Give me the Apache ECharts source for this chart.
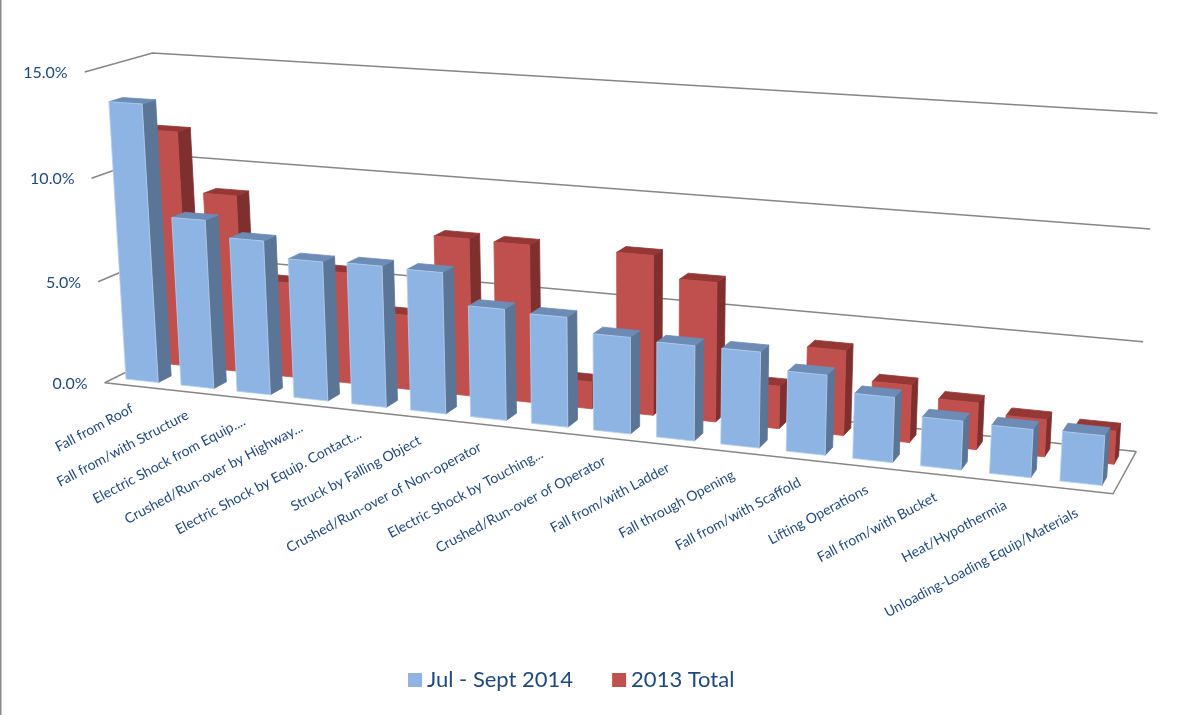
<!DOCTYPE html>
<html>
<head>
<meta charset="utf-8">
<style>
  html, body { margin: 0; padding: 0; background: #fff; }
  #chart { width: 1183px; height: 715px; }
</style>
<script src="https://cdn.jsdelivr.net/npm/echarts@6/dist/echarts.min.js"></script>
</head>
<body>
<div id="chart"></div>
<script>
const categories = [
  'Fall from Roof', 'Fall from/with Structure', 'Electric Shock from Equip....',
  'Crushed/Run-over by Highway...', 'Electric Shock by Equip. Contact...',
  'Struck by Falling Object', 'Crushed/Run-over of Non-operator',
  'Electric Shock by Touching...', 'Crushed/Run-over of Operator',
  'Fall from/with Ladder', 'Fall through Opening', 'Fall from/with Scaffold',
  'Lifting Operations', 'Fall from/with Bucket', 'Heat/Hypothermia',
  'Unloading-Loading Equip/Materials'
]
const julSept2014 = [13.5, 8.2, 7.45, 6.7, 6.75, 6.7, 5.25, 5.15, 4.5, 4.4, 4.4, 3.65, 2.95, 2.2, 2.15, 2.2]
const total2013 = [11.65, 8.75, 4.7, 5.45, 3.65, 7.6, 7.55, 1.3, 7.55, 6.55, 2.0, 3.95, 2.65, 2.15, 1.7, 1.5]
const valueTicks = [0, 5, 10, 15]

const TEXT = '#1F497D'
const FONT = 'Lato'
const GRID_LINE = '#868686'

// camera fit: [u, depth, h] -> [px, py]
const anchors = [
  [0, 0, 0, 104, 383], [1, 0, 0, 1113, 493], [1, 1, 0, 1136, 452], [0, 1, 0, 170, 350],
  [0, 0, 1, 85, 72], [0, 1, 1, 152, 53], [1, 1, 1, 1157, 113],
  [0, 0, 1 / 3, 98, 282], [0, 0, 2 / 3, 92, 178],
  [1, 1, 1 / 3, 1143, 342], [1, 1, 2 / 3, 1151, 229],
  [0.206 / 16, 0.15, 0, 126, 379], [4.206 / 16, 0.15, 0, 352, 404],
  [8.206 / 16, 0.15, 0, 593, 430], [12.206 / 16, 0.15, 0, 853, 459],
  [15.794 / 16, 0.15, 0, 1102, 485]
]

function fitCamera(points) {
  const n = 11
  const A = Array.from({ length: n }, () => new Array(n + 1).fill(0))
  const add = (row, rhs) => {
    for (let i = 0; i < n; i++) {
      for (let j = 0; j < n; j++) A[i][j] += row[i] * row[j]
      A[i][n] += row[i] * rhs
    }
  }
  points.forEach(([u, d, h, px, py]) => {
    const X = px / 1000
    const Y = py / 1000
    add([u, d, h, 1, 0, 0, 0, 0, -X * u, -X * d, -X * h], X)
    add([0, 0, 0, 0, u, d, h, 1, -Y * u, -Y * d, -Y * h], Y)
  })
  for (let c = 0; c < n; c++) {
    let best = c
    for (let r = c + 1; r < n; r++) if (Math.abs(A[r][c]) > Math.abs(A[best][c])) best = r
    ;[A[c], A[best]] = [A[best], A[c]]
    for (let r = 0; r < n; r++) {
      if (r === c) continue
      const f = A[r][c] / A[c][c]
      for (let k = c; k <= n; k++) A[r][k] -= f * A[c][k]
    }
  }
  return A.map((row, i) => row[n] / row[i])
}

const cam = fitCamera(anchors)
function project(u, d, h) {
  const w = cam[8] * u + cam[9] * d + cam[10] * h + 1
  return [
    1000 * (cam[0] * u + cam[1] * d + cam[2] * h + cam[3]) / w,
    1000 * (cam[4] * u + cam[5] * d + cam[6] * h + cam[7]) / w
  ]
}

// read u / h through the hidden axes, so the scales stay echarts' own
const toU = (api, cat, off) => (api.coord([cat, 0])[0] + off * api.size([1, 0])[0]) / api.getWidth()
const toH = (api, val) => 1 - api.coord([0, val])[1] / api.getHeight()

function barRenderer(depthFront, depthBack, colors) {
  return (params, api) => {
    const cat = api.value(0)
    const u0 = toU(api, cat, -0.294)
    const u1 = toU(api, cat, 0.294)
    const h = toH(api, api.value(1))
    const poly = (pts, fill, stroke) => ({
      type: 'polygon',
      shape: { points: pts },
      style: { fill, stroke: stroke || fill, lineWidth: 0.8 }
    })
    return {
      type: 'group',
      children: [
        poly([project(u1, depthFront, 0), project(u1, depthBack, 0), project(u1, depthBack, h), project(u1, depthFront, h)], colors.side),
        poly([project(u0, depthFront, h), project(u1, depthFront, h), project(u1, depthBack, h), project(u0, depthBack, h)], colors.top),
        poly([project(u0, depthFront, 0), project(u1, depthFront, 0), project(u1, depthFront, h), project(u0, depthFront, h)], colors.front, colors.edge)
      ]
    }
  }
}

const option = {
  animation: false,
  grid: { left: 0, right: 0, top: 0, bottom: 0 },
  xAxis: { type: 'category', data: categories, show: false },
  yAxis: { type: 'value', min: 0, max: 15, interval: 5, show: false },
  legend: {
    data: ['Jul - Sept 2014', '2013 Total'],
    left: 403,
    top: 664,
    icon: 'rect',
    itemWidth: 14,
    itemHeight: 14,
    itemGap: 39,
    selectedMode: false,
    textStyle: { color: TEXT, fontFamily: FONT, fontSize: 22 }
  },
  graphic: [{
    type: 'rect',
    silent: true,
    shape: { x: 0, y: 0, width: 1.5, height: 715 },
    style: { fill: '#8a8a8a' }
  }],
  series: [
    {
      // floor, walls and value labels
      type: 'custom',
      name: 'walls',
      silent: true,
      z: 1,
      data: valueTicks.map((v) => [0, v]),
      renderItem: (params, api) => {
        const v = api.value(1)
        const h = toH(api, v)
        const line = { stroke: GRID_LINE, lineWidth: 1.5, fill: null }
        const start = project(0, 0, h)
        const children = [{
          type: 'polyline',
          shape: { points: [start, project(0, 1, h), project(1, 1, h)] },
          style: line
        }, {
          type: 'text',
          x: start[0] - 17,
          y: start[1] + 1,
          style: {
            text: v.toFixed(1) + '%',
            align: 'right',
            verticalAlign: 'middle',
            fill: TEXT,
            font: '16px ' + FONT
          }
        }]
        if (v === 0) {
          children.push({
            type: 'polyline',
            shape: { points: [start, project(1, 0, 0), project(1, 1, 0)] },
            style: line
          })
        }
        return { type: 'group', children }
      }
    },
    {
      type: 'custom',
      name: '2013 Total',
      silent: true,
      z: 2,
      itemStyle: { color: '#C0504D' },
      data: total2013.map((v, i) => [i, v]),
      renderItem: barRenderer(0.65, 0.85, { front: '#C0504D', top: '#953735', side: '#7F302E', edge: '#C0504D' })
    },
    {
      type: 'custom',
      name: 'Jul - Sept 2014',
      silent: true,
      z: 3,
      itemStyle: { color: '#8DB4E2' },
      data: julSept2014.map((v, i) => [i, v]),
      renderItem: barRenderer(0.15, 0.35, { front: '#8DB4E2', top: '#6C8BB5', side: '#5B7596', edge: '#B5D0F0' })
    },
    {
      // slanted category labels under the front edge
      type: 'custom',
      name: 'labels',
      silent: true,
      z: 4,
      data: categories.map((c, i) => [i, 0]),
      renderItem: (params, api) => {
        const i = api.value(0)
        const p = project(toU(api, i, 0), 0, 0)
        return {
          type: 'text',
          x: p[0],
          y: p[1] + 22,
          rotation: 28 * Math.PI / 180,
          style: {
            text: categories[i],
            align: 'right',
            verticalAlign: 'middle',
            fill: TEXT,
            font: '14px ' + FONT
          }
        }
      }
    }
  ]
}

const chart = echarts.init(document.getElementById('chart'), null, { renderer: 'canvas' })
chart.setOption(option)
</script>
</body>
</html>
